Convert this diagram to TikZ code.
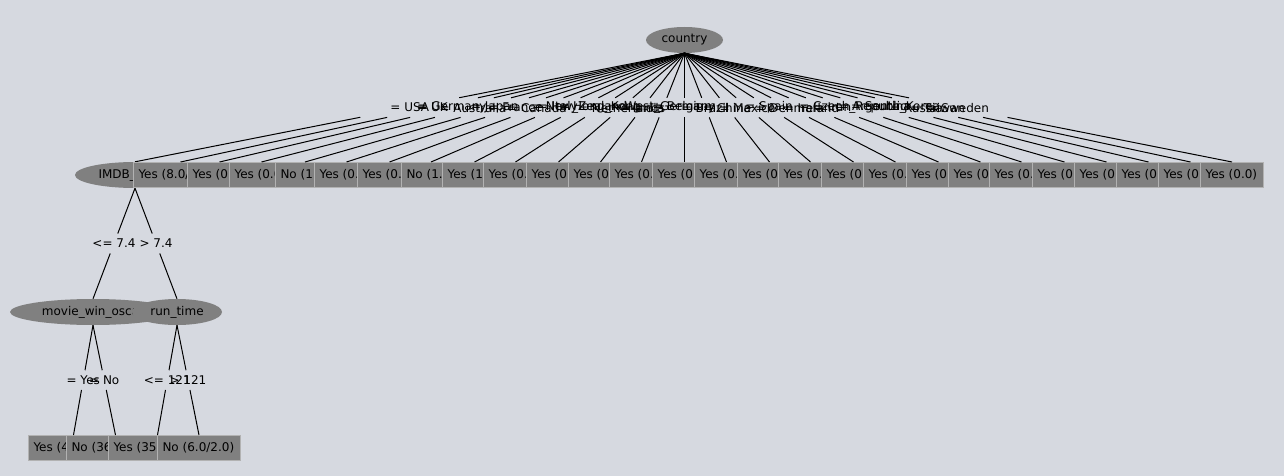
\documentclass[tikz,border=0pt]{standalone}
\usepackage{fontspec}
\setmainfont{DejaVu Sans}
\usetikzlibrary{shapes.geometric,calc}

\definecolor{wekabg}{RGB}{214,217,224}
\definecolor{nodegray}{RGB}{128,128,128}
\definecolor{leafline}{RGB}{178,178,178}

\newcommand{\wekafont}{\fontsize{12}{14}\selectfont}

\tikzset{
	attr/.style={ellipse,fill=nodegray,inner sep=0pt,minimum height=26pt,font=\wekafont},
	leaf/.style={rectangle,fill=nodegray,draw=leafline,line width=1pt,anchor=north west,minimum height=25pt,inner xsep=5pt,inner ysep=0pt,font=\wekafont},
	edgelab/.style={inner sep=0pt,font=\wekafont}
}

% edge broken around its label
\newcommand{\cutedge}[3]{%
	\draw[line width=1pt] (#1.south) -- ($(#1.south)!0.41!(#2.north)$);
	\draw[line width=1pt] ($(#1.south)!0.59!(#2.north)$) -- (#2.north);
	\node[edgelab] at ($(#1.south)!0.5!(#2.north)$) {#3};
}

\begin{document}
\begin{tikzpicture}[x=1pt,y=-1pt]
	\fill[wekabg] (0,0) rectangle (1284,476);
	\useasboundingbox (0,0) rectangle (1284,476);

	% Root and first subtree
	\node[attr,minimum width=77pt] (country) at (684.5,40) {country};
	\node[attr,minimum width=120pt] (imdb) at (135,175) {IMDB\_rating};
	\cutedge{country}{imdb}{= USA}

	% Leaves under country
	\foreach \lx/\tw/\res/\ctry [count=\i] in {
		133/84/{Yes (8.0/1.0)}/UK, 187/54/{Yes (0.0)}/Germany, 229/54/{Yes (0.0)}/Australia,
		275/49/{No (1.0)}/Japan, 314/54/{Yes (0.0)}/France, 357/54/{Yes (0.0)}/Canada,
		401/49/{No (1.0)}/Italy, 442/54/{Yes (1.0)}/New\_Zealand, 483/54/{Yes (0.0)}/Hong\_Kong,
		526/54/{Yes (0.0)}/Netherlands, 568/54/{Yes (0.0)}/India, 609/54/{Yes (0.0)}/West\_Germany,
		652/54/{Yes (0.0)}/Belgium, 694/54/{Yes (0.0)}/Brazil, 737/54/{Yes (0.0)}/China,
		778/54/{Yes (0.0)}/Mexico, 821/54/{Yes (0.0)}/Spain, 863/54/{Yes (0.0)}/Denmark,
		906/54/{Yes (0.0)}/Ireland, 948/54/{Yes (0.0)}/Iran, 989/54/{Yes (0.0)}/Czech\_Republic,
		1032/54/{Yes (0.0)}/Argentina, 1074/54/{Yes (0.0)}/South\_Korea, 1116/54/{Yes (0.0)}/Russia,
		1158/54/{Yes (0.0)}/Taiwan, 1200/53/{Yes (0.0)}/Sweden}
	{
		\node[leaf] (leaf\i) at (\lx,162) {\makebox[\tw pt][l]{\res}};
		\cutedge{country}{leaf\i}{= \ctry}
	}

	% Second level
	\node[attr,minimum width=166pt] (oscar) at (93,312) {movie\_win\_oscar};
	\node[attr,minimum width=90pt] (runtime) at (177,312) {run\_time};
	\cutedge{imdb}{oscar}{<= 7.4}
	\cutedge{imdb}{runtime}{> 7.4}

	% Bottom leaves
	\node[leaf] (oscyes) at (28,435) {\makebox[80pt][l]{Yes (46.0/6.0)}};
	\node[leaf] (oscno) at (66,435) {\makebox[88pt][l]{No (36.0/13.0)}};
	\node[leaf] (rtlow) at (108,435) {\makebox[88pt][l]{Yes (35.0/12.0)}};
	\node[leaf] (rthigh) at (157,435) {\makebox[73pt][l]{No (6.0/2.0)}};
	\cutedge{oscar}{oscyes}{= Yes}
	\cutedge{oscar}{oscno}{= No}
	\cutedge{runtime}{rtlow}{<= 121}
	\cutedge{runtime}{rthigh}{> 121}
\end{tikzpicture}
\end{document}
